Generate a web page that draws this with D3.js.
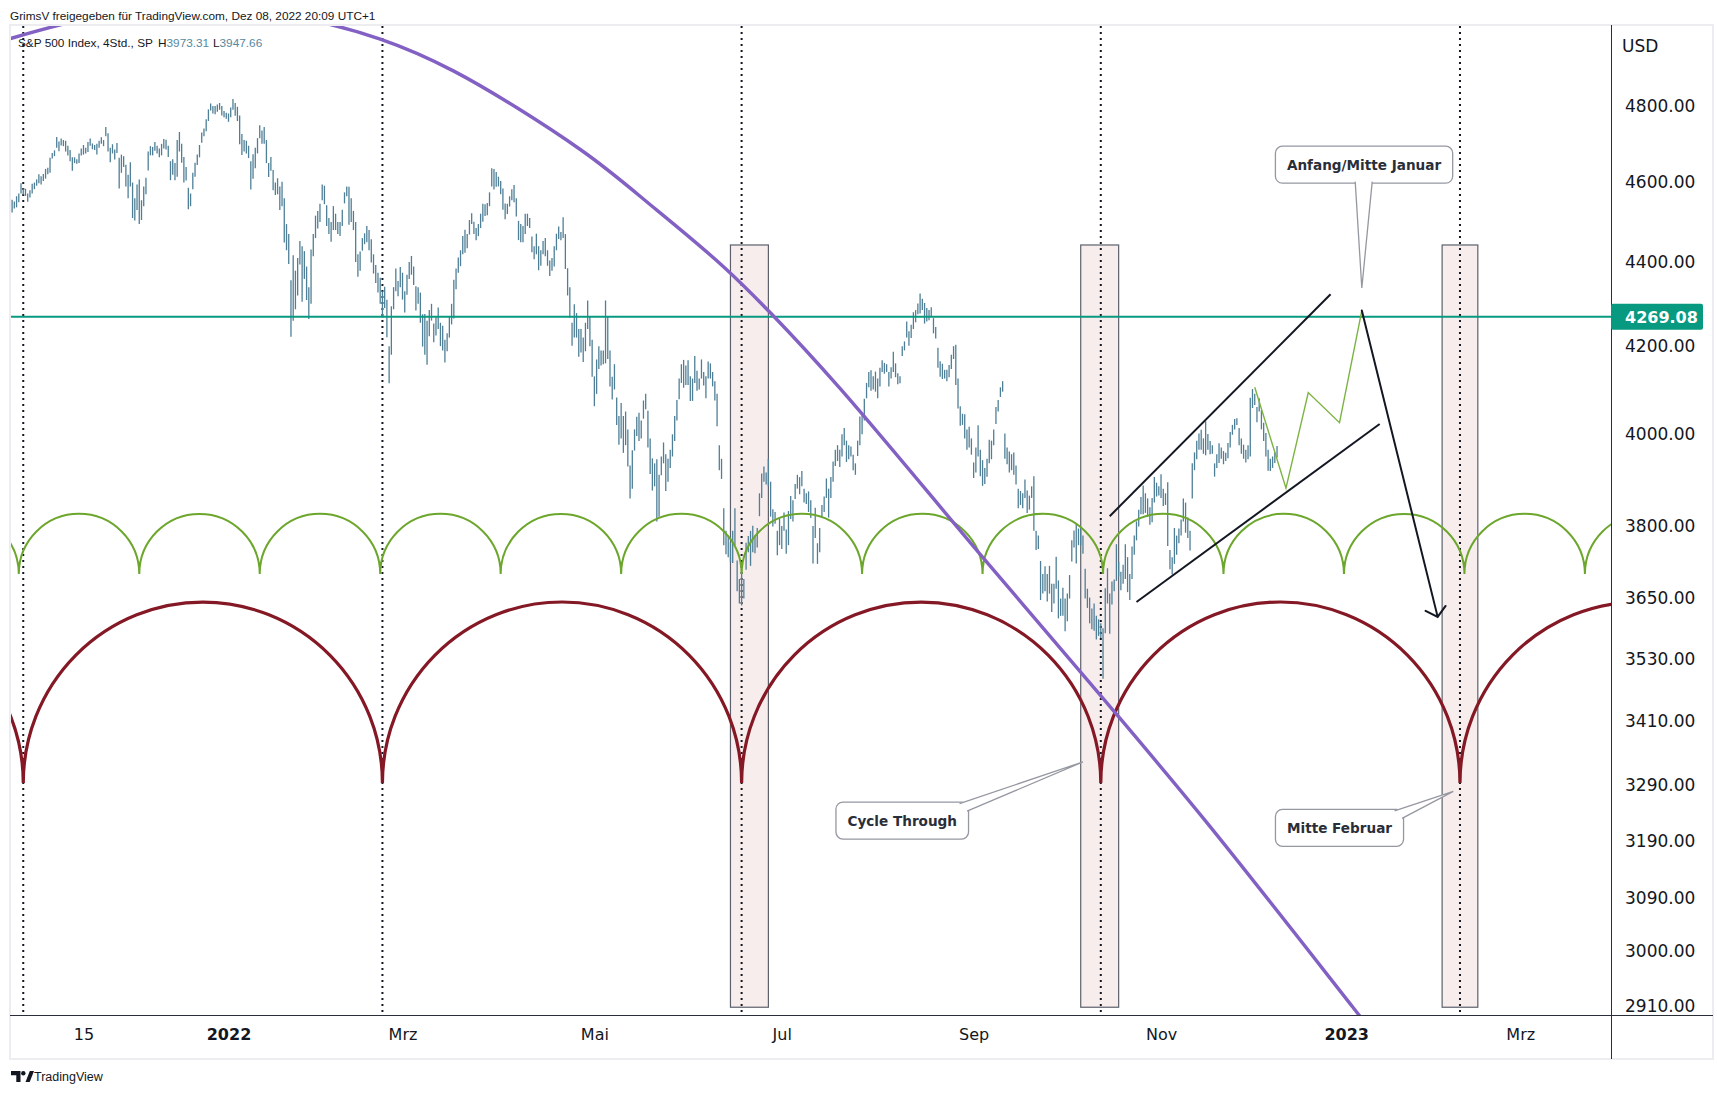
<!DOCTYPE html>
<html>
<head>
<meta charset="utf-8">
<script src="https://cdn.jsdelivr.net/npm/d3@7"></script>
<style>
  body { margin: 0; background: #fff; }
  svg { display: block; font-family: "DejaVu Sans", sans-serif; }
</style>
</head>
<body>
<svg id="chart" width="1717" height="1094"></svg>
<script>
// exchange calendar (4h bars: two per session, one on half days)
const holidays = ["2021-11-25", "2021-12-24", "2022-01-17", "2022-02-21", "2022-04-15", "2022-05-30",
  "2022-06-20", "2022-07-04", "2022-09-05", "2022-11-24", "2022-12-26", "2023-01-02", "2023-01-16",
  "2023-02-20", "2023-04-07"];
const halfDays = ["2021-11-26", "2022-11-25"];

// S&P 500, 4h bars: [day, 1st bar high, low, 2nd bar high, low]
const priceBars = [
  ["2021-10-22",4556,4524,4552,4534],["2021-10-25",4565,4537,4572,4550],["2021-10-26",4598,4572,4585,4569],
  ["2021-10-27",4584,4566,4572,4551],["2021-10-28",4580,4562,4597,4572],["2021-10-29",4600,4583,4608,4592],
  ["2021-11-01",4621,4598,4616,4595],["2021-11-02",4622,4604,4635,4610],["2021-11-03",4638,4621,4664,4625],
  ["2021-11-04",4676,4662,4683,4668],["2021-11-05",4718,4690,4706,4681],["2021-11-08",4714,4696,4710,4694],
  ["2021-11-09",4708,4680,4695,4670],["2021-11-10",4684,4655,4665,4630],["2021-11-11",4665,4650,4660,4648],
  ["2021-11-12",4675,4650,4688,4670],["2021-11-15",4697,4672,4690,4675],["2021-11-16",4705,4679,4714,4695],
  ["2021-11-17",4701,4686,4697,4684],["2021-11-18",4700,4672,4708,4690],["2021-11-19",4717,4700,4710,4694],
  ["2021-11-22",4744,4720,4728,4680],["2021-11-23",4690,4652,4699,4675],["2021-11-24",4685,4659,4702,4676],
  ["2021-11-26",4664,4585],
  ["2021-11-29",4672,4625,4668,4640],["2021-11-30",4646,4590,4620,4560],["2021-12-01",4652,4590,4600,4510],
  ["2021-12-02",4560,4504,4595,4530],["2021-12-03",4608,4495,4555,4505],["2021-12-06",4590,4540,4612,4570],
  ["2021-12-07",4680,4631,4694,4670],["2021-12-08",4692,4670,4705,4682],["2021-12-09",4695,4675,4688,4665],
  ["2021-12-10",4700,4670,4713,4688],["2021-12-13",4711,4685,4695,4666],["2021-12-14",4655,4606,4660,4620],
  ["2021-12-15",4650,4606,4710,4615],["2021-12-16",4731,4680,4700,4651],["2021-12-17",4666,4600,4640,4605],
  ["2021-12-20",4587,4532,4572,4540],["2021-12-21",4625,4583,4651,4615],["2021-12-22",4672,4645,4697,4665],
  ["2021-12-23",4730,4703,4740,4720],["2021-12-27",4765,4733,4791,4760],["2021-12-28",4807,4788,4800,4780],
  ["2021-12-29",4800,4778,4804,4785],["2021-12-30",4808,4790,4800,4775],["2021-12-31",4787,4770,4782,4766],
  ["2022-01-03",4780,4758,4796,4770],["2022-01-04",4819,4790,4808,4774],["2022-01-05",4798,4760,4775,4699],
  ["2022-01-06",4726,4671,4710,4680],["2022-01-07",4708,4675,4695,4663],["2022-01-10",4655,4582,4673,4610],
  ["2022-01-11",4690,4637,4715,4675],["2022-01-12",4749,4715,4735,4700],["2022-01-13",4744,4700,4710,4650],
  ["2022-01-14",4650,4614,4666,4630],["2022-01-18",4632,4580,4600,4568],["2022-01-19",4611,4570,4590,4530],
  ["2022-01-20",4602,4540,4560,4449],["2022-01-21",4495,4430,4470,4396],["2022-01-24",4357,4222,4418,4260],
  ["2022-01-25",4380,4287,4411,4320],["2022-01-26",4453,4395,4440,4305],["2022-01-27",4428,4360,4390,4309],
  ["2022-01-28",4340,4264,4432,4300],["2022-01-31",4470,4415,4516,4460],["2022-02-01",4528,4484,4546,4500],
  ["2022-02-02",4595,4555,4592,4545],["2022-02-03",4542,4490,4510,4470],["2022-02-04",4500,4451,4540,4480],
  ["2022-02-07",4521,4480,4500,4470],["2022-02-08",4500,4465,4531,4490],["2022-02-09",4575,4547,4590,4565],
  ["2022-02-10",4589,4493,4560,4500],["2022-02-11",4528,4480,4500,4401],["2022-02-14",4420,4365,4427,4380],
  ["2022-02-15",4460,4429,4472,4445],["2022-02-16",4490,4450,4480,4430],["2022-02-17",4457,4400,4420,4373],
  ["2022-02-18",4394,4350,4375,4327],["2022-02-22",4363,4300,4330,4267],["2022-02-23",4341,4290,4310,4221],
  ["2022-02-24",4200,4114,4294,4180],["2022-02-25",4340,4287,4385,4330],["2022-02-28",4355,4318,4389,4340],
  ["2022-03-01",4375,4310,4330,4279],["2022-03-02",4370,4322,4401,4360],["2022-03-03",4416,4370,4390,4345],
  ["2022-03-04",4342,4284,4340,4300],["2022-03-07",4327,4255,4275,4199],["2022-03-08",4276,4180,4260,4157],
  ["2022-03-09",4285,4223,4300,4260],["2022-03-10",4253,4209,4268,4225],["2022-03-11",4291,4240,4255,4200],
  ["2022-03-14",4248,4190,4215,4162],["2022-03-15",4230,4188,4271,4220],["2022-03-16",4300,4251,4358,4265],
  ["2022-03-17",4385,4335,4412,4375],["2022-03-18",4430,4391,4465,4420],["2022-03-21",4481,4424,4470,4435],
  ["2022-03-22",4505,4469,4522,4495],["2022-03-23",4501,4470,4485,4455],["2022-03-24",4495,4465,4521,4485],
  ["2022-03-25",4546,4501,4545,4515],["2022-03-28",4548,4517,4575,4540],["2022-03-29",4637,4590,4635,4582],
  ["2022-03-30",4627,4589,4615,4590],["2022-03-31",4604,4570,4585,4531],["2022-04-01",4547,4507,4546,4520],
  ["2022-04-04",4565,4539,4583,4555],["2022-04-05",4594,4550,4560,4514],["2022-04-06",4503,4455,4495,4450],
  ["2022-04-07",4490,4450,4521,4470],["2022-04-08",4521,4490,4510,4485],["2022-04-11",4464,4425,4440,4408],
  ["2022-04-12",4471,4420,4440,4381],["2022-04-13",4430,4392,4453,4420],["2022-04-14",4460,4415,4430,4392],
  ["2022-04-18",4405,4367,4411,4380],["2022-04-19",4440,4390,4471,4430],["2022-04-20",4489,4458,4475,4455],
  ["2022-04-21",4512,4460,4470,4384],["2022-04-22",4386,4320,4340,4267],["2022-04-25",4255,4201,4299,4220],
  ["2022-04-26",4278,4220,4240,4175],["2022-04-27",4240,4185,4220,4163],["2022-04-28",4255,4188,4308,4240],
  ["2022-04-29",4270,4200,4215,4129],["2022-05-02",4130,4062,4169,4090],["2022-05-03",4200,4147,4190,4155],
  ["2022-05-04",4190,4158,4308,4160],["2022-05-05",4271,4170,4190,4107],["2022-05-06",4129,4077,4158,4100],
  ["2022-05-09",4082,4020,4040,3976],["2022-05-10",4069,3990,4040,3958],["2022-05-11",4050,3975,4010,3928],
  ["2022-05-12",3930,3859,3964,3880],["2022-05-13",4010,3963,4038,3995],["2022-05-16",4047,3984,4030,3990],
  ["2022-05-17",4075,4034,4090,4055],["2022-05-18",4052,3970,3990,3912],["2022-05-19",3946,3876,3935,3885],
  ["2022-05-20",3944,3810,3910,3820],["2022-05-23",3950,3909,3981,3935],["2022-05-24",3955,3875,3945,3895],
  ["2022-05-25",3965,3925,3999,3950],["2022-05-26",4040,3984,4076,4030],["2022-05-27",4125,4078,4158,4115],
  ["2022-05-31",4168,4104,4155,4110],["2022-06-01",4167,4110,4130,4074],["2022-06-02",4125,4074,4177,4115],
  ["2022-06-03",4143,4097,4125,4100],["2022-06-06",4169,4125,4140,4109],["2022-06-07",4130,4080,4164,4125],
  ["2022-06-08",4160,4125,4140,4107],["2022-06-09",4119,4075,4090,4017],["2022-06-10",3975,3920,3945,3901],
  ["2022-06-13",3838,3760,3790,3741],["2022-06-14",3779,3735,3765,3725],["2022-06-15",3790,3723,3838,3760],
  ["2022-06-16",3728,3665,3690,3640],["2022-06-17",3708,3636,3690,3650],["2022-06-21",3765,3709,3779,3745],
  ["2022-06-22",3790,3717,3801,3745],["2022-06-23",3780,3743,3796,3755],["2022-06-24",3870,3821,3913,3860],
  ["2022-06-27",3928,3895,3915,3889],["2022-06-28",3945,3885,3895,3820],["2022-06-29",3836,3799,3830,3805],
  ["2022-06-30",3790,3739,3818,3760],["2022-07-01",3800,3752,3829,3790],["2022-07-05",3793,3742,3832,3760],
  ["2022-07-06",3864,3815,3855,3810],["2022-07-07",3890,3858,3910,3880],["2022-07-08",3905,3868,3918,3885],
  ["2022-07-11",3880,3850,3870,3847],["2022-07-12",3874,3830,3855,3817],["2022-07-13",3800,3722,3839,3775],
  ["2022-07-14",3764,3721,3796,3745],["2022-07-15",3845,3817,3863,3830],["2022-07-18",3902,3860,3880,3818],
  ["2022-07-19",3905,3860,3939,3895],["2022-07-20",3965,3929,3975,3940],["2022-07-21",3965,3927,3999,3950],
  ["2022-07-22",4013,3975,3985,3938],["2022-07-25",3975,3944,3972,3950],["2022-07-26",3954,3920,3935,3910],
  ["2022-07-27",3985,3951,4039,3975],["2022-07-28",4045,3999,4079,4030],["2022-07-29",4115,4080,4140,4105],
  ["2022-08-01",4144,4097,4130,4100],["2022-08-02",4141,4095,4125,4080],["2022-08-03",4150,4107,4167,4140],
  ["2022-08-04",4161,4136,4158,4140],["2022-08-05",4140,4107,4151,4125],["2022-08-08",4187,4140,4160,4128],
  ["2022-08-09",4137,4112,4130,4114],["2022-08-10",4200,4177,4211,4190],["2022-08-11",4258,4220,4235,4201],
  ["2022-08-12",4250,4219,4280,4240],["2022-08-15",4285,4256,4301,4275],["2022-08-16",4325,4277,4312,4285],
  ["2022-08-17",4302,4253,4290,4258],["2022-08-18",4285,4261,4292,4268],["2022-08-19",4266,4230,4245,4218],
  ["2022-08-22",4196,4150,4165,4129],["2022-08-23",4159,4124,4145,4125],["2022-08-24",4145,4119,4156,4128],
  ["2022-08-25",4180,4147,4200,4170],["2022-08-26",4203,4110,4125,4057],["2022-08-29",4062,4018,4045,4020],
  ["2022-08-30",4044,3990,4010,3965],["2022-08-31",4016,3970,3990,3954],["2022-09-01",3937,3903,3970,3915],
  ["2022-09-02",4019,3950,3965,3907],["2022-09-06",3942,3886,3925,3890],["2022-09-07",3945,3906,3987,3935],
  ["2022-09-08",3985,3944,4010,3975],["2022-09-09",4060,4022,4076,4050],["2022-09-12",4105,4083,4119,4095],
  ["2022-09-13",4001,3945,3970,3933],["2022-09-14",3961,3915,3955,3920],["2022-09-15",3959,3910,3930,3889],
  ["2022-09-16",3880,3838,3875,3845],["2022-09-19",3870,3838,3900,3860],["2022-09-20",3876,3828,3865,3835],
  ["2022-09-21",3885,3860,3907,3790],["2022-09-22",3790,3750,3780,3752],["2022-09-23",3727,3647,3700,3660],
  ["2022-09-26",3716,3665,3700,3644],["2022-09-27",3717,3660,3680,3623],["2022-09-28",3680,3640,3736,3670],
  ["2022-09-29",3687,3610,3650,3615],["2022-09-30",3672,3615,3650,3584],["2022-10-03",3660,3604,3698,3650],
  ["2022-10-04",3770,3726,3791,3755],["2022-10-05",3806,3722,3795,3760],["2022-10-06",3797,3760,3780,3742],
  ["2022-10-07",3711,3650,3670,3631],["2022-10-10",3652,3600,3630,3588],["2022-10-11",3640,3585,3615,3568],
  ["2022-10-12",3608,3575,3600,3571],["2022-10-13",3590,3491,3671,3580],["2022-10-14",3712,3640,3660,3579],
  ["2022-10-17",3685,3638,3689,3665],["2022-10-18",3762,3686,3725,3695],["2022-10-19",3705,3667,3719,3680],
  ["2022-10-20",3762,3690,3735,3663],["2022-10-21",3700,3647,3757,3690],["2022-10-24",3780,3740,3810,3770],
  ["2022-10-25",3835,3799,3862,3825],["2022-10-26",3887,3825,3870,3828],["2022-10-27",3859,3820,3840,3803],
  ["2022-10-28",3860,3808,3905,3850],["2022-10-31",3893,3863,3885,3865],["2022-11-01",3911,3860,3880,3843],
  ["2022-11-02",3870,3845,3894,3758],["2022-11-03",3750,3710,3735,3699],["2022-11-04",3796,3721,3780,3740],
  ["2022-11-07",3795,3764,3814,3780],["2022-11-08",3859,3810,3850,3786],["2022-11-09",3818,3775,3790,3749],
  ["2022-11-10",3935,3859,3959,3920],["2022-11-11",3985,3944,4001,3965],["2022-11-14",4009,3965,3990,3956],
  ["2022-11-15",4028,3953,4000,3965],["2022-11-16",3984,3955,3975,3956],["2022-11-17",3935,3906,3955,3925],
  ["2022-11-18",3979,3936,3970,3945],["2022-11-21",3962,3933,3958,3940],["2022-11-22",3980,3946,4004,3970],
  ["2022-11-23",4020,3998,4033,4010],["2022-11-25",4035,4020],
  ["2022-11-28",4013,3975,3990,3956],["2022-11-29",3976,3945,3965,3937],["2022-11-30",3975,3944,4081,3950],
  ["2022-12-01",4101,4058,4090,4065],["2022-12-02",4060,4026,4080,4050],["2022-12-05",4053,4010,4025,3984],
  ["2022-12-06",4002,3950,3965,3919],["2022-12-07",3945,3918,3950,3925],["2022-12-08",3960,3936,3973.31,3947.66]
];

// axes
const priceTicks = [4800, 4600, 4400, 4200, 4000, 3800, 3650, 3530, 3410, 3290, 3190, 3090, 3000, 2910];
const dateTicks = ["2021-11-15", "2022-01-03", "2022-03-01", "2022-05-02", "2022-07-01", "2022-09-01", "2022-11-01", "2023-01-03", "2023-03-01"];
const dateLabels = ["15", "2022", "Mrz", "Mai", "Jul", "Sep", "Nov", "2023", "Mrz"];

// drawings
const levelPrice = 4269.08;
const longLows = ["2022-06-17", "2022-10-12 pm"];    // two successive lows of the long cycle
const shortLows = ["2022-06-17", "2022-07-28"];      // two successive lows of the short cycle
const longCycle = [3294, 3643];                      // cusp price, arc top price
const shortCycle = [3700, 3826];
const zones = [["2022-06-14 pm", "2022-06-28 am"], ["2022-10-06 am", "2022-10-18 pm"], ["2023-02-02 pm", "2023-02-14 pm"]];
const zonePrices = [4443, 2908];
const arcPoints = [["2021-10-21 pm",4983],["2021-11-18 pm",5045],["2021-12-21 pm",5067],["2022-01-24",5045],
  ["2022-02-22",4982],["2022-03-16 pm",4894],["2022-04-27",4684],["2022-05-20",4530],["2022-06-13",4389],
  ["2022-06-28 pm",4278],["2022-07-21",4103],["2022-09-06",3735],["2022-10-13",3453],["2022-11-15",3225],
  ["2023-01-04 pm",2908],["2023-01-26",2777]];
const channel = [
  [["2022-10-14 pm", 3821], ["2022-12-27 pm", 4323]],
  [["2022-10-24 pm", 3643], ["2023-01-12 pm", 4022]]
];
const projection = [["2022-12-01 pm",4105],["2022-12-12 pm",3881],["2022-12-19 pm",4093],["2022-12-29 pm",4025],["2023-01-06 pm",4284]];
const arrowPath = [["2023-01-06 pm", 4284], ["2023-02-01 pm", 3613]];
const notes = [
  { text: "Anfang/Mitte Januar", tip: ["2023-01-06 pm", 4338], box: ["2023-01-09", 4646] },
  { text: "Cycle Through", tip: ["2022-10-06 pm", 3333], box: ["2022-08-10", 3226] },
  { text: "Mitte Februar", tip: ["2023-02-07", 3279], box: ["2022-12-29 pm", 3213] }
];

// ---- calendar -> bar index
const parseDay = d3.utcParse("%Y-%m-%d");
const fmtDay = d3.utcFormat("%Y-%m-%d");
const sessionIndex = new Map();
let nBars = 0;
for (let d = parseDay("2021-10-18"); d <= parseDay("2023-04-28"); d = d3.utcDay.offset(d, 1)) {
  const key = fmtDay(d), wd = d.getUTCDay();
  if (wd === 0 || wd === 6 || holidays.includes(key)) continue;
  sessionIndex.set(key + " am", nBars++);
  if (!halfDays.includes(key)) sessionIndex.set(key + " pm", nBars++);
}
const bar = s => sessionIndex.get(s.includes(" ") ? s : s + " am");

const W = 1717, H = 1094;
const plot = { left: 11, right: 1611, top: 26, bottom: 1015 };

const x = d3.scaleLinear().domain([bar("2022-01-03"), bar("2023-01-03")]).range([228.5, 1346.2]);
const y = d3.scaleLog().domain([4800, 2910]).range([106, 1006]);
const px = p => [x(bar(p[0])), y(p[1])];

const svg = d3.select("#chart");
svg.append("rect").attr("width", W).attr("height", H).attr("fill", "#fff");
svg.append("defs").append("clipPath").attr("id", "clip").append("rect")
  .attr("x", plot.left).attr("y", plot.top)
  .attr("width", plot.right - plot.left).attr("height", plot.bottom - plot.top);

// frame
svg.append("rect").attr("x", 10).attr("y", 25).attr("width", 1703).attr("height", 1034)
  .attr("fill", "none").attr("stroke", "#ececf1").attr("stroke-width", 2);

const chart = svg.append("g").attr("clip-path", "url(#clip)");

// highlighted time zones
chart.append("g").selectAll("rect").data(zones).join("rect")
  .attr("x", d => x(bar(d[0])))
  .attr("width", d => x(bar(d[1])) - x(bar(d[0])))
  .attr("y", y(zonePrices[0]))
  .attr("height", y(zonePrices[1]) - y(zonePrices[0]))
  .attr("fill", "#f8eded").attr("stroke", "#5d606b").attr("stroke-width", 1.2);

// header and legend
const sans = "'Liberation Sans', Arial, sans-serif";
svg.append("text").attr("x", 10).attr("y", 19.5)
  .attr("font-family", sans).attr("font-size", 11.8).attr("fill", "#131722")
  .text("GrimsV freigegeben für TradingView.com, Dez 08, 2022 20:09 UTC+1");
const legend = svg.append("g").attr("font-family", sans).attr("font-size", 11.8).attr("fill", "#131722");
legend.append("text").attr("x", 18).attr("y", 46.5).text("S&P 500 Index, 4Std., SP");
const hl = [["H", "3973.31", 158], ["L", "3947.66", 213]];
hl.forEach(([k, v, lx]) => {
  const t = legend.append("text").attr("x", lx).attr("y", 46.5);
  t.append("tspan").text(k);
  t.append("tspan").attr("fill", "#5688a0").text(v);
});

// long cycle dotted lines
const c0 = x(bar(longLows[0]));
const period = x(bar(longLows[1])) - c0;
const cusps = d3.range(-3, 4).map(k => c0 + k * period).filter(v => v > plot.left && v < plot.right);
chart.append("g").selectAll("line").data(cusps).join("line")
  .attr("x1", d => d).attr("x2", d => d).attr("y1", plot.top).attr("y2", plot.bottom)
  .attr("stroke", "#131722").attr("stroke-width", 2).attr("stroke-dasharray", "2 4");

// price bars
const ohlc = [];
priceBars.forEach(r => {
  ohlc.push({ b: bar(r[0] + " am"), h: r[1], l: r[2] });
  if (r.length === 5) ohlc.push({ b: bar(r[0] + " pm"), h: r[3], l: r[4] });
});
chart.append("g").selectAll("line").data(ohlc).join("line")
  .attr("x1", d => x(d.b)).attr("x2", d => x(d.b))
  .attr("y1", d => y(d.h)).attr("y2", d => y(d.l))
  .attr("stroke", "#4f7f96").attr("stroke-width", 1.3);

// horizontal level
chart.append("line").attr("x1", plot.left).attr("x2", plot.right)
  .attr("y1", y(levelPrice)).attr("y2", y(levelPrice))
  .attr("stroke", "#089981").attr("stroke-width", 2);

// time cycle arcs
function cycleArcs(lows, prices, color, width) {
  const start = x(bar(lows[0])), step = x(bar(lows[1])) - start;
  const cy = y(prices[0]), ry = cy - y(prices[1]), rx = step / 2;
  let d = "";
  const k0 = Math.floor((plot.left - start) / step) - 1, k1 = Math.ceil((plot.right - start) / step);
  for (let k = k0; k <= k1; k++) {
    const a = start + k * step;
    d += `M${a},${cy}A${rx},${ry} 0 0 1 ${a + step},${cy}`;
  }
  chart.append("path").attr("d", d).attr("fill", "none")
    .attr("stroke", color).attr("stroke-width", width);
}
cycleArcs(shortLows, shortCycle, "#6ca62c", 2);
cycleArcs(longLows, longCycle, "#841824", 3.2);

// big arc
chart.append("path").datum(arcPoints.map(px))
  .attr("d", d3.line().curve(d3.curveCatmullRom.alpha(0.5)))
  .attr("fill", "none").attr("stroke", "#8360c3").attr("stroke-width", 3.4);

// channel
chart.append("g").selectAll("line").data(channel).join("line")
  .attr("x1", d => px(d[0])[0]).attr("y1", d => px(d[0])[1])
  .attr("x2", d => px(d[1])[0]).attr("y2", d => px(d[1])[1])
  .attr("stroke", "#131722").attr("stroke-width", 2);

// projected path
chart.append("path").datum(projection.map(px)).attr("d", d3.line())
  .attr("fill", "none").attr("stroke", "#7cb342").attr("stroke-width", 1.4);

// arrow
const [a1, a2] = arrowPath.map(px);
const ang = Math.atan2(a2[1] - a1[1], a2[0] - a1[0]) + Math.PI;
const head = [-0.87, 0.87].map(o => [a2[0] + 13.5 * Math.cos(ang + o), a2[1] + 13.5 * Math.sin(ang + o)]);
chart.append("path")
  .attr("d", `M${a1}L${a2}M${head[0]}L${a2}L${head[1]}`)
  .attr("fill", "none").attr("stroke", "#131722").attr("stroke-width", 2).attr("stroke-linecap", "round");

// callouts
notes.forEach(n => {
  const [tx, ty] = px(n.tip), [cx, cy] = px(n.box);
  const g = chart.append("g");
  const label = g.append("text").attr("x", cx).attr("y", cy).attr("dy", "0.36em")
    .attr("text-anchor", "middle").attr("font-size", 13.6).attr("font-weight", "bold")
    .attr("fill", "#2a2e39").text(n.text);
  const w = label.node().getComputedTextLength() + 23, h = 37;
  const x0 = cx - w / 2, x1 = cx + w / 2, y0 = cy - h / 2, y1 = cy + h / 2;
  const outX = tx < x0 || tx > x1, outY = ty < y0 || ty > y1;
  let b1, b2;
  if (outX && outY) {
    const kx = tx > x1 ? x1 : x0, ky = ty < y0 ? y0 : y1;
    const sx = tx > x1 ? -1 : 1, sy = ty < y0 ? 1 : -1;
    b1 = [kx + sx * 9, ky + sy * 1.5]; b2 = [kx + sx * 1.5, ky + sy * 9];
  } else if (outY) {
    const ky = ty < y0 ? y0 : y1, s = ty < y0 ? 1 : -1;
    const ex = cx + (tx - cx) * (ky - cy) / (ty - cy);
    b1 = [ex - 8.5, ky + s * 1.5]; b2 = [ex + 8.5, ky + s * 1.5];
  } else {
    const kx = tx > x1 ? x1 : x0, s = tx > x1 ? -1 : 1;
    const ey = cy + (ty - cy) * (kx - cx) / (tx - cx);
    b1 = [kx + s * 1.5, ey - 8.5]; b2 = [kx + s * 1.5, ey + 8.5];
  }
  g.insert("rect", "text").attr("x", x0).attr("y", y0).attr("width", w).attr("height", h)
    .attr("rx", 7).attr("fill", "#fff").attr("stroke", "#9598a1").attr("stroke-width", 1.3);
  g.insert("path", "text").attr("d", `M${b1}L${tx},${ty}L${b2}`)
    .attr("fill", "#fff").attr("stroke", "#9598a1").attr("stroke-width", 1.3);
});

// axis separators
svg.append("line").attr("x1", 1611.5).attr("x2", 1611.5).attr("y1", 25).attr("y2", 1059)
  .attr("stroke", "#2a2e39").attr("stroke-width", 1);
svg.append("line").attr("x1", 10).attr("x2", 1713).attr("y1", 1015.5).attr("y2", 1015.5)
  .attr("stroke", "#2a2e39").attr("stroke-width", 1);

// price axis
const yAxis = svg.append("g").attr("transform", `translate(${plot.right},0)`)
  .call(d3.axisRight(y).tickValues(priceTicks).tickFormat(d3.format(".2f")).tickSize(0).tickPadding(14));
yAxis.select(".domain").remove();
yAxis.attr("font-family", "'DejaVu Sans', sans-serif").attr("font-size", 17);
yAxis.selectAll("text").attr("fill", "#131722");
svg.append("text").attr("x", 1622).attr("y", 45.5).attr("dy", "0.36em")
  .attr("font-size", 17).attr("fill", "#131722").text("USD");

// last level label
const ly = y(levelPrice);
svg.append("rect").attr("x", plot.right).attr("y", ly - 13).attr("width", 92).attr("height", 26)
  .attr("rx", 2).attr("fill", "#089981");
svg.append("text").attr("x", 1625).attr("y", ly).attr("dy", "0.36em")
  .attr("font-size", 16).attr("font-weight", "bold").attr("fill", "#fff").text(levelPrice.toFixed(2));

// date axis
const xAxis = svg.append("g").attr("transform", `translate(0,${plot.bottom})`)
  .call(d3.axisBottom(x).tickValues(dateTicks.map(bar)).tickFormat((d, i) => dateLabels[i]).tickSize(0).tickPadding(14));
xAxis.select(".domain").remove();
xAxis.attr("font-family", "'DejaVu Sans', sans-serif").attr("font-size", 16);
xAxis.selectAll("text").attr("fill", "#131722")
  .attr("font-weight", (d, i) => /^\d{4}$/.test(dateLabels[i]) ? "bold" : "normal");

// footer logo
const logo = svg.append("g").attr("fill", "#131722");
logo.append("path").attr("d", "M11,1071h9.5v11h-4.2v-6.8h-5.3z");
logo.append("circle").attr("cx", 23.3).attr("cy", 1073.2).attr("r", 2.2);
logo.append("path").attr("d", "M25.5,1082l4.3,-11h4.2l-4.3,11z");
svg.append("text").attr("x", 34).attr("y", 1080.5)
  .attr("font-family", sans).attr("font-size", 12.5).attr("fill", "#131722")
  .text("TradingView");
</script>
</body>
</html>
